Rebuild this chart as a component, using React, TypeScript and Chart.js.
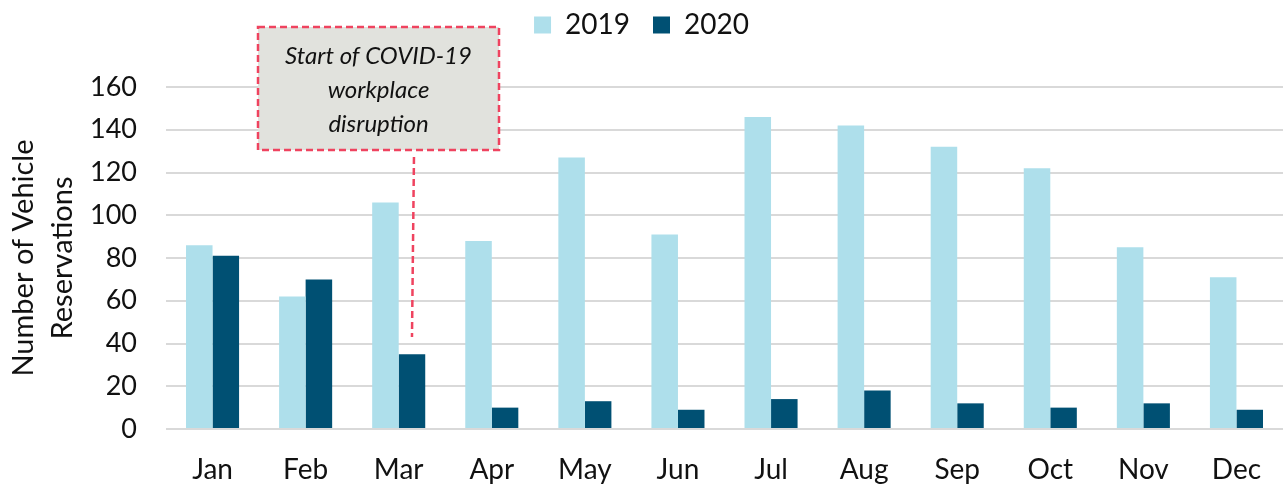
import React, { useEffect, useRef } from 'react';
import { Chart, registerables } from 'chart.js';

Chart.register(...registerables);

const months = ['Jan', 'Feb', 'Mar', 'Apr', 'May', 'Jun', 'Jul', 'Aug', 'Sep', 'Oct', 'Nov', 'Dec'];
const reservations2019 = [86, 62, 106, 88, 127, 91, 146, 142, 132, 122, 85, 71];
const reservations2020 = [81, 70, 35, 10, 13, 9, 14, 18, 12, 10, 12, 9];
const seriesLabels = ['2019', '2020'];
const seriesColors = ['#aedfeb', '#005073'];
const yAxisTitle = ['Number of Vehicle', 'Reservations'];
const yMin = 0;
const yMax = 160;
const yStep = 20;
const calloutLines = ['Start of COVID-19', 'workplace', 'disruption'];
const calloutMonthIndex = 2;
const calloutSeriesIndex = 1;
const calloutTargetValue = 43;

const FONT = 'Lato';

const legendSpacer = {
  id: 'legendSpacer',
  beforeInit(chart: any) {
    const legend = chart.legend;
    if (!legend || legend.__spaced) return;
    const orig = legend.fit;
    legend.fit = function () {
      orig.call(this);
      this.height += 38;
    };
    legend.__spaced = true;
  },
};

const calloutPlugin = {
  id: 'callout',
  afterDatasetsDraw(chart: any) {
    const { ctx } = chart;
    const y = chart.scales.y;
    const bar = chart.getDatasetMeta(calloutSeriesIndex).data[calloutMonthIndex];
    if (!bar) return;
    const box = { left: 258, top: 27, right: 499, bottom: 150 };
    const red = '#ef435f';
    ctx.save();
    ctx.fillStyle = '#e1e2dd';
    ctx.fillRect(box.left, box.top, box.right - box.left, box.bottom - box.top);
    ctx.strokeStyle = red;
    ctx.lineWidth = 2.5;
    ctx.setLineDash([7, 4]);
    ctx.strokeRect(box.left, box.top, box.right - box.left, box.bottom - box.top);
    ctx.beginPath();
    ctx.moveTo(bar.x + 2, box.bottom + 7);
    ctx.lineTo(bar.x, y.getPixelForValue(calloutTargetValue));
    ctx.stroke();
    ctx.setLineDash([]);
    ctx.fillStyle = '#111';
    ctx.font = `italic 24px ${FONT}`;
    ctx.textAlign = 'center';
    ctx.textBaseline = 'middle';
    const cx = (box.left + box.right) / 2;
    calloutLines.forEach((line, i) => {
      ctx.fillText(line, cx, 56 + i * 34);
    });
    ctx.restore();
  },
};

export default function App() {
  const canvasRef = useRef<HTMLCanvasElement | null>(null);

  useEffect(() => {
    if (!canvasRef.current) return;
    const chart = new Chart(canvasRef.current, {
      type: 'bar',
      data: {
        labels: months,
        datasets: [
          {
            label: seriesLabels[0],
            data: reservations2019,
            backgroundColor: seriesColors[0],
            categoryPercentage: 0.57,
            barPercentage: 1,
          },
          {
            label: seriesLabels[1],
            data: reservations2020,
            backgroundColor: seriesColors[1],
            categoryPercentage: 0.57,
            barPercentage: 1,
          },
        ],
      },
      options: {
        responsive: false,
        maintainAspectRatio: false,
        animation: false,
        layout: { padding: { top: -12, left: 0, right: 0, bottom: 0 } },
        plugins: {
          legend: {
            position: 'top',
            labels: {
              boxWidth: 17,
              boxHeight: 17,
              padding: 23,
              color: '#111',
              font: { family: FONT, size: 28 },
            },
          },
          tooltip: { enabled: false },
        },
        scales: {
          x: {
            offset: true,
            afterFit(scale: any) {
              scale.height = 55;
              scale.paddingLeft = 0;
              scale.paddingRight = 0;
            },
            grid: { display: false, drawTicks: false },
            border: { display: false },
            ticks: {
              padding: 24,
              color: '#111',
              font: { family: FONT, size: 28 },
              maxRotation: 0,
            },
          },
          y: {
            min: yMin,
            max: yMax,
            afterFit(scale: any) {
              scale.width = 166;
            },
            grid: { color: '#d9d9d9', lineWidth: 2, drawTicks: false },
            border: { display: false },
            ticks: {
              stepSize: yStep,
              padding: 29,
              color: '#111',
              font: { family: FONT, size: 27 },
            },
            title: {
              display: true,
              text: yAxisTitle,
              color: '#111',
              font: { family: FONT, size: 29, lineHeight: 1.345 },
              padding: { top: 4, bottom: 0 },
            },
          },
        },
      },
      plugins: [legendSpacer, calloutPlugin],
    } as any);
    return () => chart.destroy();
  }, []);

  return (
    <div style={{ position: 'absolute', left: 0, top: 0, width: 1283, height: 484, background: '#fff' }}>
      <canvas ref={canvasRef} width={1283} height={484} style={{ display: 'block' }} />
    </div>
  );
}
